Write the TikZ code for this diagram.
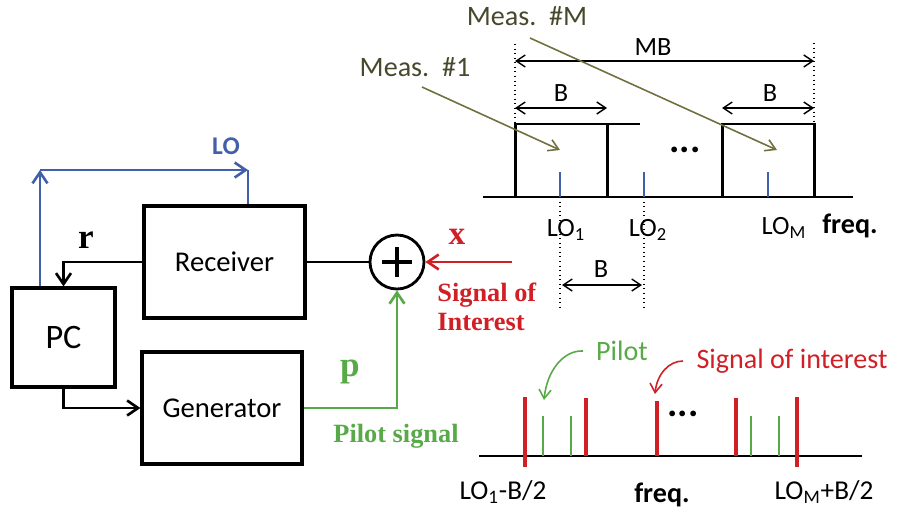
\documentclass[tikz,border=0pt]{standalone}
\usepackage{fontspec}
\setmainfont{Carlito}
\newfontfamily\labelserif{Liberation Serif}
\usetikzlibrary{arrows.meta}
\definecolor{loblue}{RGB}{66,96,170}
\definecolor{sigred}{RGB}{208,32,38}
\definecolor{pilotgreen}{RGB}{88,170,72}
\definecolor{measolive}{RGB}{72,72,44}
\definecolor{measline}{RGB}{112,112,62}

\begin{document}
\begin{tikzpicture}[x=0.02cm, y=-0.02cm,
    block/.style={draw, line width=1.8pt, inner sep=0pt, font=\fontsize{16.3}{19}\selectfont},
    lbl/.style={inner sep=0pt, font=\fontsize{15}{18}\selectfont},
    serif/.style={inner sep=0pt, font=\labelserif\bfseries\fontsize{15}{16.5}\selectfont},
    arr/.style={line width=1.5pt, -{Straight Barb[length=2.2mm,width=3mm]}},
    dimarr/.style={line width=0.8pt, {Straight Barb[length=1.8mm,width=2.4mm]}-{Straight Barb[length=1.8mm,width=2.4mm]}},
    measarr/.style={line width=0.9pt, measline, -{Straight Barb[length=2mm,width=2.4mm]}},
    bendarr/.style={line width=0.9pt, -{Straight Barb[length=1.8mm,width=2.4mm]}},
    guide/.style={line width=0.6pt, dotted},
    lotick/.style={line width=1.6pt, loblue},
    sigline/.style={line width=2.2pt, sigred},
    pilotline/.style={line width=1.6pt, pilotgreen}]
    \useasboundingbox (0,0) rectangle (899,518);

    % block diagram
    \node[block, minimum width=2.06cm, minimum height=1.98cm, font=\fontsize{19.5}{22}\selectfont] (PC) at (63.5,337.5) {PC};
    \node[block, minimum width=3.22cm, minimum height=2.24cm] (Receiver) at (224.5,262) {Receiver};
    \node[block, minimum width=3.2cm, minimum height=2.24cm] (Generator) at (222,408) {Generator};
    \node[circle, draw, line width=1.6pt, minimum size=1.08cm, inner sep=0pt] (sum) at (397,262) {};
    \draw[line width=2.6pt] ([xshift=-0.3cm]sum.center) -- ([xshift=0.3cm]sum.center);
    \draw[line width=2.6pt] ([yshift=-0.3cm]sum.center) -- ([yshift=0.3cm]sum.center);

    \draw[arr] (Receiver.west) -| (PC.north);
    \draw[arr] (PC.south) |- (Generator.west);
    \draw[line width=1.5pt] (Receiver.east) -- (sum.west);
    \node[serif, font=\labelserif\bfseries\fontsize{20}{24}\selectfont] (rlabel) at (86,240) {r};

    \coordinate (lotop) at (40,170);
    \coordinate (loend) at (248,170);
    \draw[arr, loblue] (PC.north -| lotop) -- (lotop);
    \draw[arr, loblue] (lotop) -- (loend);
    \draw[line width=1.5pt, loblue] (loend) -- (loend |- Receiver.north);
    \node[lbl, text=loblue, font=\bfseries\fontsize{14.5}{17}\selectfont] (lolabel) at (226,146) {LO};

    \coordinate (xin) at (512,262);
    \draw[arr, sigred] (xin) -- (sum.east);
    \node[serif, text=sigred, font=\labelserif\bfseries\fontsize{19}{22}\selectfont] (xlabel) at (457,237) {x};
    \node[serif, text=sigred, anchor=west, align=left] (soi) at (437,307) {Signal of\\Interest};

    \draw[arr, pilotgreen] (Generator.east) -| (sum.south);
    \node[serif, text=pilotgreen, font=\labelserif\bfseries\fontsize{20}{24}\selectfont] (plabel) at (350,372) {p};
    \node[serif, text=pilotgreen] (pilotsig) at (396,436) {Pilot signal};

    % measurement bands
    \draw[line width=1pt] (483,197) -- (853,197);
    \draw[line width=1.7pt] (515,124) rectangle (607,197);
    \draw[line width=1.7pt] (607,124) -- (640,124);
    \draw[line width=1.7pt] (722,124) rectangle (814,197);
    \draw[lotick] (560,172) -- (560,197);
    \draw[lotick] (644,172) -- (644,197);
    \draw[lotick] (768,172) -- (768,197);
    \draw[guide] (515,44) -- (515,124);
    \draw[guide] (814,43) -- (814,124);
    \draw[guide] (560,197) -- (560,308);
    \draw[guide] (644,197) -- (644,308);
    \draw[dimarr] (515,61) -- (814,61);
    \draw[dimarr] (515,108) -- (607,108);
    \draw[dimarr] (722,108) -- (814,108);
    \draw[dimarr] (562,285) -- (642,285);
    \node[lbl] (mb) at (653,47) {MB};
    \node[lbl] (bfirst) at (561,93) {B};
    \node[lbl] (blast) at (770,93) {B};
    \node[lbl] (bstep) at (601,269) {B};
    \node[lbl] (lofirst) at (566,230) {LO\textsubscript{1}};
    \node[lbl] (losecond) at (648,230) {LO\textsubscript{2}};
    \node[lbl] (lolast) at (784,228) {LO\textsubscript{M}};
    \node[lbl, font=\bfseries\fontsize{16}{19}\selectfont] (freqtop) at (850,226) {freq.};
    \node[lbl, font=\bfseries\fontsize{22}{24}\selectfont] (dotstop) at (685,150) {...};

    \node[lbl, text=measolive, font=\fontsize{16}{19}\selectfont] (measfirst) at (415,67) {Meas.~~\#1};
    \node[lbl, text=measolive, font=\fontsize{16}{19}\selectfont] (measlast) at (527,16) {Meas.~~\#M};
    \coordinate (mfirstfrom) at (422,87);
    \coordinate (mfirstto) at (560,150);
    \coordinate (mlastfrom) at (530,38);
    \coordinate (mlastto) at (777,150);
    \draw[measarr] (mfirstfrom) -- (mfirstto);
    \draw[measarr] (mlastfrom) -- (mlastto);

    % pilot spectrum
    \draw[line width=1pt] (479,456) -- (862,456);
    \draw[sigline] (525,397) -- (525,467);
    \draw[sigline] (586,398) -- (586,456);
    \draw[sigline] (657,401) -- (657,456);
    \draw[sigline] (736,398) -- (736,456);
    \draw[sigline] (797,397) -- (797,467);
    \draw[pilotline] (543,416) -- (543,456);
    \draw[pilotline] (571,416) -- (571,456);
    \draw[pilotline] (751,416) -- (751,456);
    \draw[pilotline] (779,416) -- (779,456);
    \node[lbl, font=\bfseries\fontsize{22}{24}\selectfont] (dotslow) at (683,414) {...};
    \node[lbl, font=\fontsize{15.5}{18}\selectfont] (loedge) at (503,492) {LO\textsubscript{1}-B/2};
    \node[lbl, font=\bfseries\fontsize{16}{19}\selectfont] (freqlow) at (662,495) {freq.};
    \node[lbl, font=\fontsize{15.5}{18}\selectfont] (hiedge) at (824,492) {LO\textsubscript{M}+B/2};
    \node[lbl, text=pilotgreen, font=\fontsize{16}{19}\selectfont] (pilot) at (622,351) {Pilot};
    \node[lbl, text=sigred, font=\fontsize{16}{19}\selectfont] (soilow) at (792,361) {Signal of interest};
    \coordinate (pilotfrom) at (583,351);
    \coordinate (pilotto) at (544,400);
    \coordinate (soifrom) at (683,361);
    \coordinate (soito) at (655,394);
    \draw[bendarr, pilotgreen] (pilotfrom) .. controls (564,350) and (547,370) .. (pilotto);
    \draw[bendarr, sigred] (soifrom) .. controls (669,361) and (657,374) .. (soito);
\end{tikzpicture}
\end{document}
